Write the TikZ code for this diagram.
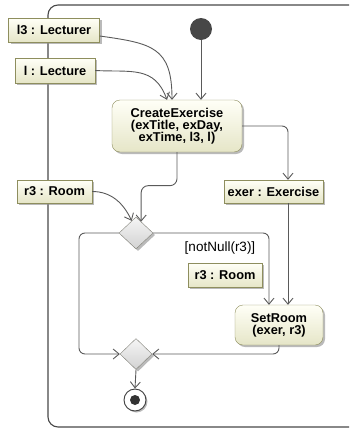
\documentclass[tikz,border=0pt]{standalone}
\usepackage{fontspec}
\setmainfont{Liberation Sans}
\usetikzlibrary{arrows.meta, positioning, shapes.geometric, shadows, calc}
\definecolor{olv}{HTML}{8E8E5E}
\definecolor{lgray}{HTML}{5A5A5A}
\tikzset{
  obj/.style = {rectangle, draw=olv, top color=white!60!yellow!8, bottom color=yellow!25!olv!30, text=black, inner sep=0pt, minimum height=24pt, font=\bfseries\fontsize{12.8}{12}\selectfont, drop shadow={shadow xshift=2pt, shadow yshift=-2pt, fill=black!45, opacity=0.6}},
  act/.style = {obj, rounded corners=8pt, align=center},
  dia/.style = {diamond, draw=gray!80!olv, top color=gray!8, bottom color=gray!35, inner sep=0pt, minimum width=34pt, minimum height=32pt, drop shadow={shadow xshift=2pt, shadow yshift=-2pt, fill=black!45, opacity=0.6}},
  arr/.style = {draw=lgray, line width=0.9pt, -{Straight Barb[length=6pt, width=10pt]}},
  frame/.style = {draw=lgray!80!black, line width=1.1pt, rounded corners=10pt}
}

\begin{document}
\begin{tikzpicture}[x=1pt, y=1pt]
\useasboundingbox (0,0) rectangle (349,-429);
\clip (0,0) rectangle (349,-429);
% activity frame
\draw[frame] (48,-5) rectangle (380,-427);

% inputs (left)
\node[obj, minimum width=91pt] (lec3) at (54,-30) {l3 : Lecturer};
\node[obj, minimum width=80pt, minimum height=25pt] (lec) at (55,-70.5) {l : Lecture};
\node[obj, minimum width=75pt, minimum height=23pt] (room1) at (54.5,-191.5) {r3 : Room};

% start + first action
\node[circle, fill=black!72, minimum size=22pt, inner sep=0pt] (init) at (201,-29) {};
\node[act, minimum width=130pt, minimum height=52pt] (cre) at (177,-126) {CreateExercise\\(exTitle, exDay,\\exTime, l3, l)};
\node[obj, minimum width=99pt, minimum height=23pt] (exer) at (273.5,-191.5) {exer : Exercise};

% decision / merge
\node[dia] (dec) at (136,-233) {};
\node[font=\fontsize{13.5}{14}\selectfont] (grd) at (220,-248) {[notNull(r3)]};
\node[obj, minimum width=74pt] (room2) at (225,-275) {r3 : Room};
\node[act, minimum width=88pt, minimum height=40pt] (setr) at (279,-325) {SetRoom\\(exer, r3)};
\node[dia, minimum width=32pt, minimum height=31pt] (mrg) at (136,-354) {};
\node[circle, draw=black!75, fill=white, line width=0.9pt, minimum size=22pt, inner sep=0pt,
  path picture={\fill[black!80] (path picture bounding box.center) circle (5pt);},
  drop shadow={shadow xshift=1.5pt, shadow yshift=-1.5pt, fill=black!45, opacity=0.6}] (fin) at (135,-400) {};

% ----- ARROWS -----
\coordinate (dn1) at ($(dec.north)!0.3!(dec.east)$);
\coordinate (dn2) at ($(dec.north)!0.25!(dec.west)$);
\coordinate (e1) at ([xshift=9pt]setr.north);
\coordinate (lx) at (79,0);
% start -> CreateExercise
\draw[arr] (init.south) -- (init.south |- cre.north);
% objects into CreateExercise
\draw[arr] ([yshift=-6pt]lec3.east) to[out=-8, in=90, looseness=1.4] ([xshift=-5pt]cre.north);
\draw[arr] (lec.east) to[out=-3, in=110, looseness=1.2] ([xshift=-10pt]cre.north);
% CreateExercise -> exer
\draw[arr, rounded corners=6pt] (cre.east) -| (e1 |- exer.north);
% CreateExercise -> decision
\draw[arr, rounded corners=7pt] (cre.south) |- ($(dn1)+(0,36)$) -- (dn1);
% r3 -> decision
\draw[arr] (room1.east) to[out=0, in=115] (dn2);
% decision, left branch -> merge
\draw[arr, rounded corners=6pt] (dec.west) -- (dec.west -| lx) -- (mrg.west -| lx) -- (mrg.west);
% decision, right branch -> SetRoom
\draw[arr, rounded corners=6pt] (dec.east) -| ([xshift=-10pt]setr.north);
% exer -> SetRoom
\draw[arr] (exer.south -| e1) -- (e1);
% SetRoom -> merge
\draw[arr, rounded corners=6pt] (setr.south) |- (mrg.east);
% merge -> end
\draw[arr] (mrg.south) -- (fin.north);

\end{tikzpicture}
\end{document}
